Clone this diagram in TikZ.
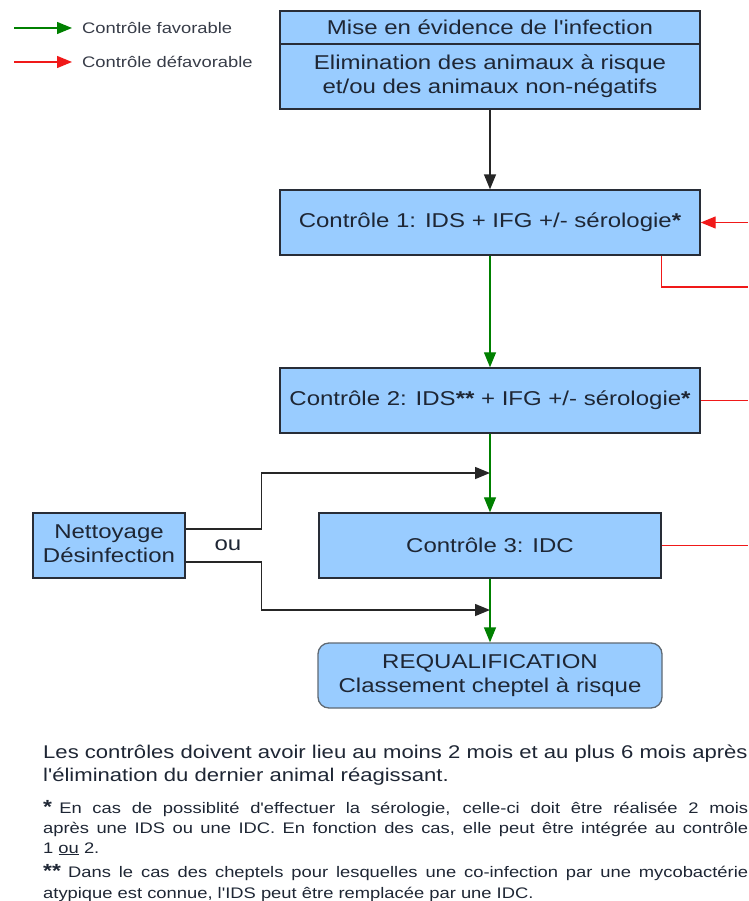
\documentclass[tikz,border=0pt]{standalone}
\usepackage{fontspec}
\setmainfont{Liberation Sans}
\usepackage{graphicx}
\usetikzlibrary{arrows.meta,calc}
\definecolor{boxblue}{RGB}{153,204,255}
\definecolor{boxline}{RGB}{40,45,55}
\definecolor{txt}{RGB}{30,38,52}
\definecolor{legtxt}{RGB}{55,60,72}
\definecolor{grn}{RGB}{0,128,0}
\definecolor{rd}{RGB}{240,25,25}
\definecolor{reqline}{RGB}{95,105,115}
\newcommand{\hs}[1]{\scalebox{1.2}[1]{#1}}
\newcommand{\mlines}[1]{\hs{\begin{tabular}{@{}c@{}}#1\end{tabular}}}
\newcommand{\st}{\textbf{*}}
\newcommand{\ap}{\textquotesingle}
\begin{document}
\begin{tikzpicture}[x=1pt,y=-1pt,
  box/.style={draw=boxline,line width=1.4pt,fill=boxblue,inner sep=0pt,text=txt,
    font=\fontsize{20}{24}\selectfont},
  reqbox/.style={draw=reqline,line width=1.3pt,fill=boxblue,inner sep=0pt,text=txt,
    rounded corners=11pt,font=\fontsize{20}{24}\selectfont},
  tip/.style={-{Triangle[length=15pt,width=12pt]}},
  blk/.style={draw=black!85,line width=1.5pt},
  gr/.style={draw=grn,line width=1.3pt},
  re/.style={draw=rd,line width=1.3pt},
  leg/.style={anchor=west,inner sep=0pt,text=legtxt,font=\fontsize{15.3}{18}\selectfont},
  note/.style={inner sep=0pt,text=txt,anchor=base west}
]
\path[use as bounding box] (0,0) rectangle (748,901);

% legend
\node[leg] (lg1) at (82,28) {\hs{Contrôle favorable}};
\node[leg] (lg2) at (82,62) {\hs{Contrôle défavorable}};
\coordinate (lg1s) at (14,28);
\coordinate (lg2s) at (14,62);
\draw[gr,tip] (lg1s) -- ([xshift=-10pt]lg1.west);
\draw[re,tip] (lg2s) -- ([xshift=-10pt]lg2.west);

% boxes
\node[box,minimum width=420pt,minimum height=33pt] (top1) at (490,27.5)
  {\hs{Mise en évidence de l\ap infection}};
\node[box,minimum width=420pt,minimum height=65pt] (top2) at (490,76.5)
  {\mlines{Elimination des animaux à risque\\et/ou des animaux non-négatifs}};
\node[box,minimum width=420pt,minimum height=65pt] (ctrl1) at (490,222.5)
  {\hs{Contrôle 1: IDS + IFG +/- sérologie\st}};
\node[box,minimum width=420pt,minimum height=65pt] (ctrl2) at (490,400.5)
  {\hs{Contrôle 2: IDS\st\st{} + IFG +/- sérologie\st}};
\node[box,minimum width=342pt,minimum height=65pt] (ctrl3) at (490,545.5)
  {\hs{Contrôle 3: IDC}};
\node[box,minimum width=152pt,minimum height=65pt] (nett) at (109,545.5)
  {\mlines{Nettoyage\\Désinfection}};
\node[reqbox,minimum width=344pt,minimum height=65pt] (req) at (490,675.5)
  {\mlines{REQUALIFICATION\\Classement cheptel à risque}};
\node[inner sep=0pt,text=txt,font=\fontsize{20}{24}\selectfont] (ou) at (228,545) {\hs{ou}};

% vertical flow
\draw[blk,tip] (top2.south) -- (ctrl1.north);
\draw[gr,tip] (ctrl1.south) -- (ctrl2.north);
\draw[gr,tip] (ctrl2.south) -- (ctrl3.north);
\draw[gr,tip] (ctrl3.south) -- (req.north);

% red connectors
\coordinate (rin) at (748,222.5);
\coordinate (r1) at (748,287);
\coordinate (r2) at (748,400.5);
\coordinate (r3) at (748,545.5);
\draw[re,tip] (rin) -- (ctrl1.east);
\draw[re] ([xshift=-39pt]ctrl1.south east) |- (r1);
\draw[re] (ctrl2.east) -- (r2);
\draw[re] (ctrl3.east) -- (r3);

% nettoyage connectors
\coordinate (j1) at (490,473);
\coordinate (j2) at (490,610);
\draw[blk,tip] ([yshift=16.5pt]nett.east) -- ++(76,0) |- (j1);
\draw[blk,tip] ([yshift=-16.5pt]nett.east) -- ++(76,0) |- (j2);

% notes
\node[note] (n1) at (43,758) {\hs{\parbox[t]{587.5pt}{\fontsize{18.4}{23}\selectfont
Les contrôles doivent avoir lieu au moins 2 mois et au plus 6 mois après\\
l\ap élimination du dernier animal réagissant.}}};
\node[note] (n2) at (43,813) {\hs{\parbox[t]{587.5pt}{\fontsize{15.3}{20}\selectfont
{\bfseries\fontsize{19}{19}\selectfont *}\hspace{6pt}En cas de possiblité d\ap effectuer la sérologie, celle-ci doit être réalisée 2 mois\linebreak
après une IDS ou une IDC. En fonction des cas, elle peut être intégrée au contrôle\linebreak
1 \underline{ou} 2.}}};
\node[note] (n3) at (43,877) {\hs{\parbox[t]{587.5pt}{\fontsize{15.3}{21}\selectfont
{\bfseries\fontsize{19}{19}\selectfont **}\hspace{6pt}Dans le cas des cheptels pour lesquelles une co-infection par une mycobactérie\linebreak
atypique est connue, l\ap IDS peut être remplacée par une IDC.}}};
\end{tikzpicture}
\end{document}
